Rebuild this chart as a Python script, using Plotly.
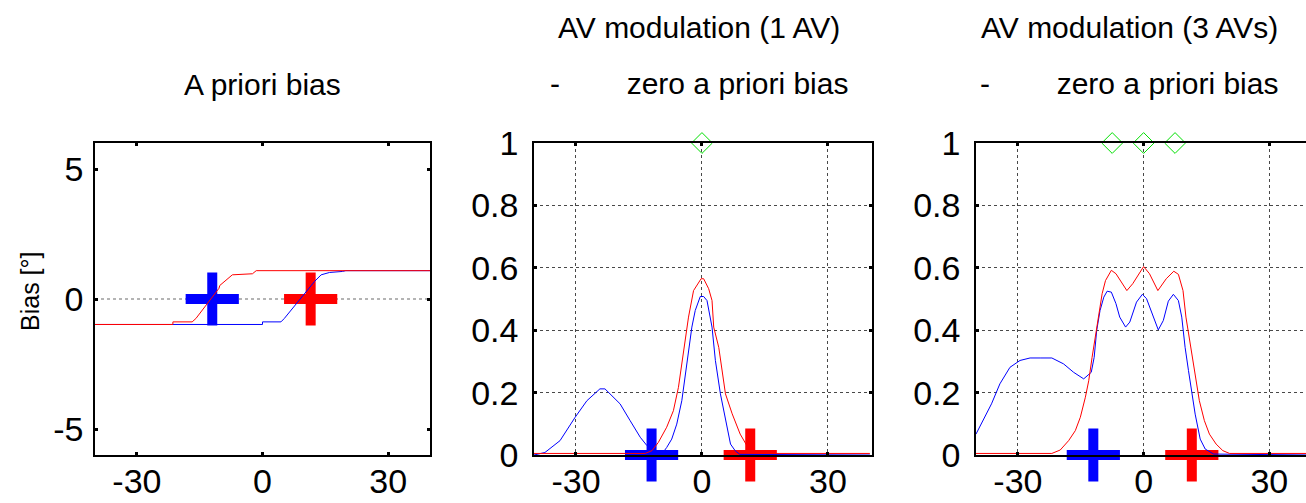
import plotly.graph_objects as go

W, H = 1306, 503

# ---------------- data ----------------
# Panel 1: A priori bias
bias_blue_x = [-40, 0.0, 0.0, 4.4, 5.2, 11.2, 12.4, 14.0, 16.0, 19.1, 19.9, 40]
bias_blue_y = [-0.98, -0.98, -0.88, -0.88, -0.75, 0.47, 0.67, 0.93, 1.02, 1.06, 1.09, 1.09]
bias_red_x = [-40, -21.4, -21.4, -16.8, -15.9, -10.4, -10.2, -7.2, -2.4, -1.5, 40]
bias_red_y = [-0.98, -0.98, -0.88, -0.88, -0.75, 0.41, 0.52, 0.93, 0.97, 1.09, 1.09]

# Panel 2: AV modulation (1 AV)
av1_blue_x = [-40, -37.4, -33.8, -30.2, -27.4, -24.3, -23.1, -19.5, -17.1, -14.7, -13.1, -11.5,
              -9.5, -8.4, -7.2, -6.0, -4.8, -4.0, -3.2, -2.4, -1.6, -0.4, 0.4, 1.2, 2.4, 3.2,
              4.4, 5.6, 6.8, 7.9, 9.0, 40]
av1_blue_y = [0.0, 0.008, 0.046, 0.121, 0.174, 0.212, 0.212, 0.164, 0.11, 0.057, 0.03, 0.01,
              0.004, 0.024, 0.051, 0.099, 0.174, 0.249, 0.335, 0.41, 0.463, 0.508, 0.508, 0.495,
              0.41, 0.303, 0.196, 0.11, 0.035, 0.014, 0.002, 0.0]
av1_red_x = [-40, -13.5, -11.9, -10.4, -8.4, -6.8, -5.6, -4.4, -3.2, -2.0, -0.2, 0.4, 1.6,
             2.4, 2.8, 4.0, 4.8, 5.6, 7.2, 9.1, 10.7, 12.3, 14.0, 40]
av1_red_y = [0.005, 0.005, 0.014, 0.04, 0.089, 0.142, 0.217, 0.335, 0.442, 0.527, 0.565, 0.565,
             0.533, 0.495, 0.41, 0.345, 0.27, 0.196, 0.132, 0.067, 0.03, 0.008, 0.005, 0.005]

# Panel 3: AV modulation (3 AVs)
av3_blue_x = [-40, -38.3, -36.3, -34.3, -31.9, -29.5, -27.1, -24.7, -21.9, -19.1, -16.7, -14.3,
              -12.5, -11.8, -11.2, -10.4, -9.5, -8.7, -7.7, -6.6, -5.7, -4.3, -3.3, -1.7, -0.3,
              0.7, 2.3, 3.5, 4.7, 5.9, 7.1, 8.3, 9.1, 9.9, 10.7, 11.5, 12.3, 13.5, 14.7, 16.7, 40]
av3_blue_y = [0.067, 0.11, 0.164, 0.228, 0.281, 0.303, 0.311, 0.311, 0.311, 0.292, 0.265, 0.244,
              0.265, 0.313, 0.399, 0.463, 0.506, 0.525, 0.522, 0.485, 0.442, 0.41, 0.426, 0.49,
              0.515, 0.501, 0.442, 0.401, 0.431, 0.493, 0.515, 0.495, 0.442, 0.345, 0.271, 0.196,
              0.131, 0.051, 0.019, 0.003, 0.0]
av3_red_x = [-40, -21.9, -19.9, -17.9, -16.3, -15.1, -13.9, -13.1, -12.3, -11.5, -10.7, -9.9,
             -9.1, -7.7, -6.6, -5.4, -4.0, -2.6, -1.2, 0.0, 1.4, 3.4, 5.4, 7.2, 8.3, 9.4, 10.1,
             10.9, 11.7, 12.5, 13.3, 14.5, 15.7, 17.3, 18.9, 20.5, 40]
av3_red_y = [0.005, 0.005, 0.016, 0.046, 0.078, 0.121, 0.185, 0.238, 0.313, 0.378, 0.442, 0.517,
             0.559, 0.592, 0.581, 0.554, 0.527, 0.549, 0.581, 0.604, 0.581, 0.527, 0.565, 0.589,
             0.579, 0.527, 0.442, 0.378, 0.313, 0.249, 0.174, 0.11, 0.067, 0.035, 0.014, 0.005,
             0.005]

# Cross markers (blue / red estimates) and AV positions (green diamonds)
cross_x = [-12.0, 11.5]
cross_colors = ["#0000ff", "#ff0000"]
av_pos_1 = [0]
av_pos_3 = [-7.5, 0, 7.5]

x_ticks = [-30, 0, 30]
x_ticktext = ["-30", "0", "30"]
bias_ticks = [-5, 0, 5]
bias_ticktext = ["-5", "0", "5"]
prob_ticks = [0, 0.2, 0.4, 0.6, 0.8, 1]
prob_ticktext = ["0", "0.2", "0.4", "0.6", "0.8", "1"]

titles_top = ["AV modulation (1 AV)", "AV modulation (3 AVs)"]
title_left = "A priori bias"
title_sub = "-" + "\u00a0" * 8 + "zero a priori bias"
ylabel = "Bias [°]"

# ---------------- figure ----------------
FONT = "Liberation Sans, Arial, sans-serif"
fig = go.Figure()


def px_x(p):
    return p / W


def px_y(p):
    return 1 - p / H


top_px, bot_px = 143, 455
ydom = [px_y(bot_px), px_y(top_px)]

panels = [
    dict(xa="x", ya="y", dom=[px_x(95), px_x(430)], xr=[-40, 40]),
    dict(xa="x2", ya="y2", dom=[px_x(534), px_x(872)], xr=[-40, 40.5]),
    dict(xa="x3", ya="y3", dom=[px_x(976), 1.0], xr=[-40, 38.75]),
]


def add_crosses(xa, ya):
    for cx, col in zip(cross_x, cross_colors):
        fig.add_trace(go.Scatter(
            x=[cx], y=[0], xaxis=xa, yaxis=ya, mode="markers",
            marker=dict(symbol="cross-thin", size=38, color=col,
                        line=dict(width=10, color=col)),
            cliponaxis=False, showlegend=False, hoverinfo="skip"))


def add_line(x, y, col, xa, ya):
    fig.add_trace(go.Scatter(x=x, y=y, xaxis=xa, yaxis=ya, mode="lines",
                             line=dict(color=col, width=1), showlegend=False))


def add_diamonds(xs, xa, ya):
    fig.add_trace(go.Scatter(x=xs, y=[1] * len(xs), xaxis=xa, yaxis=ya,
                             mode="markers", cliponaxis=False, showlegend=False,
                             marker=dict(symbol="diamond-open", size=16, color="#00e000",
                                         line=dict(width=1, color="#00e000"))))


# Panel 1
add_crosses("x", "y")
add_line(bias_blue_x, bias_blue_y, "#0000ff", "x", "y")
add_line(bias_red_x, bias_red_y, "#ff0000", "x", "y")

# Panel 2
add_crosses("x2", "y2")
add_line(av1_blue_x, av1_blue_y, "#0000ff", "x2", "y2")
add_line(av1_red_x, av1_red_y, "#ff0000", "x2", "y2")
add_diamonds(av_pos_1, "x2", "y2")

# Panel 3
add_crosses("x3", "y3")
add_line(av3_blue_x, av3_blue_y, "#0000ff", "x3", "y3")
add_line(av3_red_x, av3_red_y, "#ff0000", "x3", "y3")
add_diamonds(av_pos_3, "x3", "y3")

tickfont = dict(family=FONT, size=34, color="#000")
common_ax = dict(showline=True, linecolor="#000", linewidth=1.5, ticks="inside",
                 ticklen=3, tickwidth=3, tickcolor="#000", tickfont=tickfont,
                 zeroline=False, automargin=False)

layout = dict(width=W, height=H, margin=dict(l=0, r=0, t=0, b=0, pad=0, autoexpand=False),
              paper_bgcolor="white", plot_bgcolor="white", showlegend=False)

for i, p in enumerate(panels):
    sfx = "" if i == 0 else str(i + 1)
    grid = i > 0
    xa = dict(common_ax, domain=p["dom"], range=p["xr"], tickvals=x_ticks,
              ticktext=x_ticktext, anchor="y" + sfx, mirror="ticks", showgrid=grid,
              gridcolor="rgba(40,40,40,0.85)", griddash="dot", gridwidth=1,
              ticklabelstandoff=-5)
    if i == 0:
        ya = dict(common_ax, domain=ydom, range=[-6, 6], tickvals=bias_ticks,
                  ticktext=bias_ticktext,
                  anchor="x", mirror="ticks", showgrid=False, ticklabelstandoff=3)
    else:
        ya = dict(common_ax, domain=ydom, range=[0, 1], tickvals=prob_ticks,
                  ticktext=prob_ticktext,
                  anchor="x" + sfx, mirror=("ticks" if i == 1 else False), showgrid=True,
                  gridcolor="rgba(40,40,40,0.85)", griddash="dot", gridwidth=1,
                  ticklabelstandoff=7)
    layout["xaxis" + sfx] = xa
    layout["yaxis" + sfx] = ya

fig.update_layout(**layout)

# zero reference line in panel 1
fig.add_shape(type="line", xref="x", yref="y", x0=-40, x1=40, y0=0, y1=0,
              line=dict(color="rgba(90,90,90,0.9)", width=1, dash="dot"), layer="below")

tfont = dict(family=FONT, size=30, color="#000")
ann = [
    dict(text=title_left, x=px_x(262), y=px_y(84)),
    dict(text=titles_top[0], x=px_x(699), y=px_y(27)),
    dict(text=title_sub, x=px_x(699), y=px_y(83)),
    dict(text=titles_top[1], x=px_x(1129), y=px_y(27)),
    dict(text=title_sub, x=px_x(1129), y=px_y(83)),
]
for a in ann:
    fig.add_annotation(xref="paper", yref="paper", showarrow=False, font=tfont,
                       xanchor="center", yanchor="middle", **a)
fig.add_annotation(text=ylabel, xref="paper", yref="paper", x=px_x(30), y=px_y(292),
                   showarrow=False, textangle=-90, xanchor="center", yanchor="middle",
                   font=dict(family=FONT, size=25, color="#000"))

fig.write_html(
    "out.html",
    config={"displayModeBar": False},
    post_script="document.body.style.margin='0px';document.body.style.overflow='hidden';",
)
